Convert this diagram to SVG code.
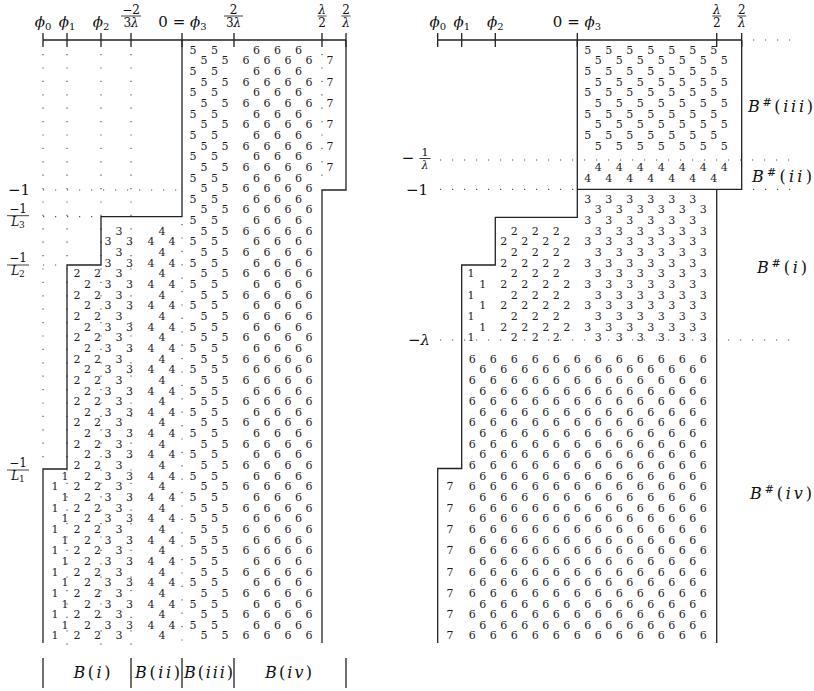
<svg xmlns="http://www.w3.org/2000/svg" width="814" height="691" viewBox="0 0 814 691">
<style>
.d{font-family:"DejaVu Serif",serif;font-size:11px;fill:#1e1e1e;text-anchor:middle}
.t{font-family:"DejaVu Serif",serif;fill:#111}
.f{font-family:"DejaVu Serif",serif;font-size:12px;fill:#111;text-anchor:middle}
.it{font-style:italic}
.ln{stroke:#222;stroke-width:1.3;fill:none}
.bar{stroke:#111;stroke-width:0.8}
.dh{stroke:#555;stroke-width:1.2;stroke-dasharray:1.2 10.8;fill:none}
.dv{stroke:#555;stroke-width:1.2;stroke-dasharray:1.2 12.2;fill:none}
</style>
<rect width="814" height="691" fill="#fff"/>

<!-- LEFT DIAGRAM -->
<g id="left-dotted">
<path class="dv" d="M43 54V469M67 54V645M101 54V645M131 54V645M182 224V645M322 54V187"/>
<path class="dh" d="M43 190H180M43 216.7H99M43 265H66"/>
</g>
<g id="left-axis">
<path class="ln" d="M43 40H346M43 33V47M67 33V47M101 33V47M131 33V47M182 33V47M234 33V47M322 33V47M346 33V47"/>
<text class="t" x="43" y="27" font-size="15" text-anchor="middle"><tspan class="it">ϕ</tspan><tspan font-size="10" dy="3">0</tspan></text>
<text class="t" x="67" y="27" font-size="15" text-anchor="middle"><tspan class="it">ϕ</tspan><tspan font-size="10" dy="3">1</tspan></text>
<text class="t" x="101" y="27" font-size="15" text-anchor="middle"><tspan class="it">ϕ</tspan><tspan font-size="10" dy="3">2</tspan></text>
<text class="f" x="131" y="13.5">−2</text><path class="bar" d="M121 16H141"/><text class="f" x="131" y="26.5">3<tspan class="it">λ</tspan></text>
<text class="t" x="182.5" y="27" font-size="15" text-anchor="middle">0 = <tspan class="it">ϕ</tspan><tspan font-size="10" dy="3">3</tspan></text>
<text class="f" x="233.5" y="13.5">2</text><path class="bar" d="M224 16H243"/><text class="f" x="233.5" y="26.5">3<tspan class="it">λ</tspan></text>
<text class="f" x="322" y="13.5"><tspan class="it">λ</tspan></text><path class="bar" d="M317.5 16H326.5"/><text class="f" x="322" y="26.5">2</text>
<text class="f" x="346" y="13.5">2</text><path class="bar" d="M341.5 16H350.5"/><text class="f" x="346" y="26.5"><tspan class="it">λ</tspan></text>
</g>
<g id="left-outline">
<path class="ln" d="M182 40V216.7H101V265H67V469H43V643"/>
<path class="ln" d="M346 40V190H322V643"/>
</g>
<g id="left-side-labels">
<text class="t" x="30" y="194.5" font-size="15" text-anchor="end">−1</text>
<text class="f" x="18" y="213">−1</text><path class="bar" d="M7 215.7H29"/><text class="f" x="18" y="226"><tspan class="it">L</tspan><tspan font-size="9" dy="2">3</tspan></text>
<text class="f" x="18" y="262.3">−1</text><path class="bar" d="M7 265H29"/><text class="f" x="18" y="275.3"><tspan class="it">L</tspan><tspan font-size="9" dy="2">2</tspan></text>
<text class="f" x="18" y="467.3">−1</text><path class="bar" d="M7 470H29"/><text class="f" x="18" y="480.3"><tspan class="it">L</tspan><tspan font-size="9" dy="2">1</tspan></text>
</g>
<g id="left-digits" class="d">
<g transform="translate(0 53.7)"><text x="193">5</text><text x="214.5">5</text><text x="256.5">6</text><text x="277.5">6</text><text x="298.5">6</text></g>
<g transform="translate(0 64.35)"><text x="204">5</text><text x="225">5</text><text x="246">6</text><text x="267">6</text><text x="288">6</text><text x="309">6</text><text x="330">7</text></g>
<g transform="translate(0 75)"><text x="193">5</text><text x="214.5">5</text><text x="256.5">6</text><text x="277.5">6</text><text x="298.5">6</text></g>
<g transform="translate(0 85.65)"><text x="204">5</text><text x="225">5</text><text x="246">6</text><text x="267">6</text><text x="288">6</text><text x="309">6</text><text x="330">7</text></g>
<g transform="translate(0 96.3)"><text x="193">5</text><text x="214.5">5</text><text x="256.5">6</text><text x="277.5">6</text><text x="298.5">6</text></g>
<g transform="translate(0 106.95)"><text x="204">5</text><text x="225">5</text><text x="246">6</text><text x="267">6</text><text x="288">6</text><text x="309">6</text><text x="330">7</text></g>
<g transform="translate(0 117.6)"><text x="193">5</text><text x="214.5">5</text><text x="256.5">6</text><text x="277.5">6</text><text x="298.5">6</text></g>
<g transform="translate(0 128.25)"><text x="204">5</text><text x="225">5</text><text x="246">6</text><text x="267">6</text><text x="288">6</text><text x="309">6</text><text x="330">7</text></g>
<g transform="translate(0 138.9)"><text x="193">5</text><text x="214.5">5</text><text x="256.5">6</text><text x="277.5">6</text><text x="298.5">6</text></g>
<g transform="translate(0 149.55)"><text x="204">5</text><text x="225">5</text><text x="246">6</text><text x="267">6</text><text x="288">6</text><text x="309">6</text><text x="330">7</text></g>
<g transform="translate(0 160.2)"><text x="193">5</text><text x="214.5">5</text><text x="256.5">6</text><text x="277.5">6</text><text x="298.5">6</text></g>
<g transform="translate(0 170.85)"><text x="204">5</text><text x="225">5</text><text x="246">6</text><text x="267">6</text><text x="288">6</text><text x="309">6</text><text x="330">7</text></g>
<g transform="translate(0 181.5)"><text x="193">5</text><text x="214.5">5</text><text x="256.5">6</text><text x="277.5">6</text><text x="298.5">6</text></g>
<g transform="translate(0 192.15)"><text x="204">5</text><text x="225">5</text><text x="246">6</text><text x="267">6</text><text x="288">6</text><text x="309">6</text></g>
<g transform="translate(0 202.8)"><text x="193">5</text><text x="214.5">5</text><text x="256.5">6</text><text x="277.5">6</text><text x="298.5">6</text></g>
<g transform="translate(0 213.45)"><text x="204">5</text><text x="225">5</text><text x="246">6</text><text x="267">6</text><text x="288">6</text><text x="309">6</text></g>
<g transform="translate(0 224.1)"><text x="193">5</text><text x="214.5">5</text><text x="256.5">6</text><text x="277.5">6</text><text x="298.5">6</text></g>
<g transform="translate(0 234.75)"><text x="119">3</text><text x="162">4</text><text x="204">5</text><text x="225">5</text><text x="246">6</text><text x="267">6</text><text x="288">6</text><text x="309">6</text></g>
<g transform="translate(0 245.4)"><text x="108">3</text><text x="129.5">3</text><text x="151">4</text><text x="172">4</text><text x="193">5</text><text x="214.5">5</text><text x="256.5">6</text><text x="277.5">6</text><text x="298.5">6</text></g>
<g transform="translate(0 256.05)"><text x="119">3</text><text x="162">4</text><text x="204">5</text><text x="225">5</text><text x="246">6</text><text x="267">6</text><text x="288">6</text><text x="309">6</text></g>
<g transform="translate(0 266.7)"><text x="108">3</text><text x="129.5">3</text><text x="151">4</text><text x="172">4</text><text x="193">5</text><text x="214.5">5</text><text x="256.5">6</text><text x="277.5">6</text><text x="298.5">6</text></g>
<g transform="translate(0 277.35)"><text x="77">2</text><text x="97.5">2</text><text x="119">3</text><text x="162">4</text><text x="204">5</text><text x="225">5</text><text x="246">6</text><text x="267">6</text><text x="288">6</text><text x="309">6</text></g>
<g transform="translate(0 288)"><text x="87.5">2</text><text x="108">3</text><text x="129.5">3</text><text x="151">4</text><text x="172">4</text><text x="193">5</text><text x="214.5">5</text><text x="256.5">6</text><text x="277.5">6</text><text x="298.5">6</text></g>
<g transform="translate(0 298.65)"><text x="77">2</text><text x="97.5">2</text><text x="119">3</text><text x="162">4</text><text x="204">5</text><text x="225">5</text><text x="246">6</text><text x="267">6</text><text x="288">6</text><text x="309">6</text></g>
<g transform="translate(0 309.3)"><text x="87.5">2</text><text x="108">3</text><text x="129.5">3</text><text x="151">4</text><text x="172">4</text><text x="193">5</text><text x="214.5">5</text><text x="256.5">6</text><text x="277.5">6</text><text x="298.5">6</text></g>
<g transform="translate(0 319.95)"><text x="77">2</text><text x="97.5">2</text><text x="119">3</text><text x="162">4</text><text x="204">5</text><text x="225">5</text><text x="246">6</text><text x="267">6</text><text x="288">6</text><text x="309">6</text></g>
<g transform="translate(0 330.6)"><text x="87.5">2</text><text x="108">3</text><text x="129.5">3</text><text x="151">4</text><text x="172">4</text><text x="193">5</text><text x="214.5">5</text><text x="256.5">6</text><text x="277.5">6</text><text x="298.5">6</text></g>
<g transform="translate(0 341.25)"><text x="77">2</text><text x="97.5">2</text><text x="119">3</text><text x="162">4</text><text x="204">5</text><text x="225">5</text><text x="246">6</text><text x="267">6</text><text x="288">6</text><text x="309">6</text></g>
<g transform="translate(0 351.9)"><text x="87.5">2</text><text x="108">3</text><text x="129.5">3</text><text x="151">4</text><text x="172">4</text><text x="193">5</text><text x="214.5">5</text><text x="256.5">6</text><text x="277.5">6</text><text x="298.5">6</text></g>
<g transform="translate(0 362.55)"><text x="77">2</text><text x="97.5">2</text><text x="119">3</text><text x="162">4</text><text x="204">5</text><text x="225">5</text><text x="246">6</text><text x="267">6</text><text x="288">6</text><text x="309">6</text></g>
<g transform="translate(0 373.2)"><text x="87.5">2</text><text x="108">3</text><text x="129.5">3</text><text x="151">4</text><text x="172">4</text><text x="193">5</text><text x="214.5">5</text><text x="256.5">6</text><text x="277.5">6</text><text x="298.5">6</text></g>
<g transform="translate(0 383.85)"><text x="77">2</text><text x="97.5">2</text><text x="119">3</text><text x="162">4</text><text x="204">5</text><text x="225">5</text><text x="246">6</text><text x="267">6</text><text x="288">6</text><text x="309">6</text></g>
<g transform="translate(0 394.5)"><text x="87.5">2</text><text x="108">3</text><text x="129.5">3</text><text x="151">4</text><text x="172">4</text><text x="193">5</text><text x="214.5">5</text><text x="256.5">6</text><text x="277.5">6</text><text x="298.5">6</text></g>
<g transform="translate(0 405.15)"><text x="77">2</text><text x="97.5">2</text><text x="119">3</text><text x="162">4</text><text x="204">5</text><text x="225">5</text><text x="246">6</text><text x="267">6</text><text x="288">6</text><text x="309">6</text></g>
<g transform="translate(0 415.8)"><text x="87.5">2</text><text x="108">3</text><text x="129.5">3</text><text x="151">4</text><text x="172">4</text><text x="193">5</text><text x="214.5">5</text><text x="256.5">6</text><text x="277.5">6</text><text x="298.5">6</text></g>
<g transform="translate(0 426.45)"><text x="77">2</text><text x="97.5">2</text><text x="119">3</text><text x="162">4</text><text x="204">5</text><text x="225">5</text><text x="246">6</text><text x="267">6</text><text x="288">6</text><text x="309">6</text></g>
<g transform="translate(0 437.1)"><text x="87.5">2</text><text x="108">3</text><text x="129.5">3</text><text x="151">4</text><text x="172">4</text><text x="193">5</text><text x="214.5">5</text><text x="256.5">6</text><text x="277.5">6</text><text x="298.5">6</text></g>
<g transform="translate(0 447.75)"><text x="77">2</text><text x="97.5">2</text><text x="119">3</text><text x="162">4</text><text x="204">5</text><text x="225">5</text><text x="246">6</text><text x="267">6</text><text x="288">6</text><text x="309">6</text></g>
<g transform="translate(0 458.4)"><text x="87.5">2</text><text x="108">3</text><text x="129.5">3</text><text x="151">4</text><text x="172">4</text><text x="193">5</text><text x="214.5">5</text><text x="256.5">6</text><text x="277.5">6</text><text x="298.5">6</text></g>
<g transform="translate(0 469.05)"><text x="77">2</text><text x="97.5">2</text><text x="119">3</text><text x="162">4</text><text x="204">5</text><text x="225">5</text><text x="246">6</text><text x="267">6</text><text x="288">6</text><text x="309">6</text></g>
<g transform="translate(0 479.7)"><text x="65">1</text><text x="87.5">2</text><text x="108">3</text><text x="129.5">3</text><text x="151">4</text><text x="172">4</text><text x="193">5</text><text x="214.5">5</text><text x="256.5">6</text><text x="277.5">6</text><text x="298.5">6</text></g>
<g transform="translate(0 490.35)"><text x="55">1</text><text x="77">2</text><text x="97.5">2</text><text x="119">3</text><text x="162">4</text><text x="204">5</text><text x="225">5</text><text x="246">6</text><text x="267">6</text><text x="288">6</text><text x="309">6</text></g>
<g transform="translate(0 501)"><text x="65">1</text><text x="87.5">2</text><text x="108">3</text><text x="129.5">3</text><text x="151">4</text><text x="172">4</text><text x="193">5</text><text x="214.5">5</text><text x="256.5">6</text><text x="277.5">6</text><text x="298.5">6</text></g>
<g transform="translate(0 511.65)"><text x="55">1</text><text x="77">2</text><text x="97.5">2</text><text x="119">3</text><text x="162">4</text><text x="204">5</text><text x="225">5</text><text x="246">6</text><text x="267">6</text><text x="288">6</text><text x="309">6</text></g>
<g transform="translate(0 522.3)"><text x="65">1</text><text x="87.5">2</text><text x="108">3</text><text x="129.5">3</text><text x="151">4</text><text x="172">4</text><text x="193">5</text><text x="214.5">5</text><text x="256.5">6</text><text x="277.5">6</text><text x="298.5">6</text></g>
<g transform="translate(0 532.95)"><text x="55">1</text><text x="77">2</text><text x="97.5">2</text><text x="119">3</text><text x="162">4</text><text x="204">5</text><text x="225">5</text><text x="246">6</text><text x="267">6</text><text x="288">6</text><text x="309">6</text></g>
<g transform="translate(0 543.6)"><text x="65">1</text><text x="87.5">2</text><text x="108">3</text><text x="129.5">3</text><text x="151">4</text><text x="172">4</text><text x="193">5</text><text x="214.5">5</text><text x="256.5">6</text><text x="277.5">6</text><text x="298.5">6</text></g>
<g transform="translate(0 554.25)"><text x="55">1</text><text x="77">2</text><text x="97.5">2</text><text x="119">3</text><text x="162">4</text><text x="204">5</text><text x="225">5</text><text x="246">6</text><text x="267">6</text><text x="288">6</text><text x="309">6</text></g>
<g transform="translate(0 564.9)"><text x="65">1</text><text x="87.5">2</text><text x="108">3</text><text x="129.5">3</text><text x="151">4</text><text x="172">4</text><text x="193">5</text><text x="214.5">5</text><text x="256.5">6</text><text x="277.5">6</text><text x="298.5">6</text></g>
<g transform="translate(0 575.55)"><text x="55">1</text><text x="77">2</text><text x="97.5">2</text><text x="119">3</text><text x="162">4</text><text x="204">5</text><text x="225">5</text><text x="246">6</text><text x="267">6</text><text x="288">6</text><text x="309">6</text></g>
<g transform="translate(0 586.2)"><text x="65">1</text><text x="87.5">2</text><text x="108">3</text><text x="129.5">3</text><text x="151">4</text><text x="172">4</text><text x="193">5</text><text x="214.5">5</text><text x="256.5">6</text><text x="277.5">6</text><text x="298.5">6</text></g>
<g transform="translate(0 596.85)"><text x="55">1</text><text x="77">2</text><text x="97.5">2</text><text x="119">3</text><text x="162">4</text><text x="204">5</text><text x="225">5</text><text x="246">6</text><text x="267">6</text><text x="288">6</text><text x="309">6</text></g>
<g transform="translate(0 607.5)"><text x="65">1</text><text x="87.5">2</text><text x="108">3</text><text x="129.5">3</text><text x="151">4</text><text x="172">4</text><text x="193">5</text><text x="214.5">5</text><text x="256.5">6</text><text x="277.5">6</text><text x="298.5">6</text></g>
<g transform="translate(0 618.15)"><text x="55">1</text><text x="77">2</text><text x="97.5">2</text><text x="119">3</text><text x="162">4</text><text x="204">5</text><text x="225">5</text><text x="246">6</text><text x="267">6</text><text x="288">6</text><text x="309">6</text></g>
<g transform="translate(0 628.8)"><text x="65">1</text><text x="87.5">2</text><text x="108">3</text><text x="129.5">3</text><text x="151">4</text><text x="172">4</text><text x="193">5</text><text x="214.5">5</text><text x="256.5">6</text><text x="277.5">6</text><text x="298.5">6</text></g>
<g transform="translate(0 639.45)"><text x="55">1</text><text x="77">2</text><text x="97.5">2</text><text x="119">3</text><text x="162">4</text><text x="204">5</text><text x="225">5</text><text x="246">6</text><text x="267">6</text><text x="288">6</text><text x="309">6</text></g>
</g>
<g id="left-bottom-labels">
<path class="ln" d="M43 658V688M131 658V688M182 658V688M234 658V688M346 658V688"/>
<text class="t" x="92" y="678" font-size="16" text-anchor="middle" textLength="37" lengthAdjust="spacing"><tspan class="it">B</tspan>(<tspan class="it">i</tspan>)</text>
<text class="t" x="157.5" y="678" font-size="16" text-anchor="middle" textLength="45" lengthAdjust="spacing"><tspan class="it">B</tspan>(<tspan class="it">ii</tspan>)</text>
<text class="t" x="208.5" y="678" font-size="16" text-anchor="middle" textLength="49" lengthAdjust="spacing"><tspan class="it">B</tspan>(<tspan class="it">iii</tspan>)</text>
<text class="t" x="288.5" y="678" font-size="16" text-anchor="middle" textLength="47" lengthAdjust="spacing"><tspan class="it">B</tspan>(<tspan class="it">iv</tspan>)</text>
</g>

<!-- RIGHT DIAGRAM -->
<g id="right-dotted">
<path class="dh" d="M753 40H800M440 160H800M440 189.3H574M753 189.3H800M440 340H800"/>
</g>
<g id="right-axis">
<path class="ln" d="M437.7 40H741.7M437.7 33V47M461.7 33V47M495.3 33V47M577.3 33V47M716.7 33V47M741.7 33V47"/>
<text class="t" x="437.7" y="27" font-size="15" text-anchor="middle"><tspan class="it">ϕ</tspan><tspan font-size="10" dy="3">0</tspan></text>
<text class="t" x="461.7" y="27" font-size="15" text-anchor="middle"><tspan class="it">ϕ</tspan><tspan font-size="10" dy="3">1</tspan></text>
<text class="t" x="495.3" y="27" font-size="15" text-anchor="middle"><tspan class="it">ϕ</tspan><tspan font-size="10" dy="3">2</tspan></text>
<text class="t" x="577" y="27" font-size="15" text-anchor="middle">0 = <tspan class="it">ϕ</tspan><tspan font-size="10" dy="3">3</tspan></text>
<text class="f" x="716.7" y="13.5"><tspan class="it">λ</tspan></text><path class="bar" d="M712.2 16H721.2"/><text class="f" x="716.7" y="26.5">2</text>
<text class="f" x="741.7" y="13.5">2</text><path class="bar" d="M737.2 16H746.2"/><text class="f" x="741.7" y="26.5"><tspan class="it">λ</tspan></text>
</g>
<g id="right-outline">
<path class="ln" d="M577.3 40V217.3H495.3V265H461.7V468.5H437.7V643"/>
<path class="ln" d="M577.3 189.3H741.7V40"/>
<path class="ln" d="M716.7 189.3V643"/>
</g>
<g id="right-side-labels">
<text class="t" x="408" y="163" font-size="15" text-anchor="middle">−</text>
<text class="t" x="425" y="156" font-size="11" text-anchor="middle">1</text><path class="bar" d="M419.5 158.5H430.5"/><text class="t" x="425" y="169" font-size="11" text-anchor="middle"><tspan class="it">λ</tspan></text>
<text class="t" x="428" y="194.5" font-size="15" text-anchor="end">−1</text>
<text class="t" x="430" y="345" font-size="15" text-anchor="end">−<tspan class="it">λ</tspan></text>
</g>
<g id="right-digits" class="d">
<g transform="translate(0 53.7)"><text x="587.7">5</text><text x="608.7">5</text><text x="629.7">5</text><text x="650.7">5</text><text x="671.7">5</text><text x="692.7">5</text><text x="713.7">5</text></g>
<g transform="translate(0 64.35)"><text x="598.3">5</text><text x="619.3">5</text><text x="640.3">5</text><text x="661.3">5</text><text x="682.3">5</text><text x="703.3">5</text><text x="724.3">5</text></g>
<g transform="translate(0 75)"><text x="587.7">5</text><text x="608.7">5</text><text x="629.7">5</text><text x="650.7">5</text><text x="671.7">5</text><text x="692.7">5</text><text x="713.7">5</text></g>
<g transform="translate(0 85.65)"><text x="598.3">5</text><text x="619.3">5</text><text x="640.3">5</text><text x="661.3">5</text><text x="682.3">5</text><text x="703.3">5</text><text x="724.3">5</text></g>
<g transform="translate(0 96.3)"><text x="587.7">5</text><text x="608.7">5</text><text x="629.7">5</text><text x="650.7">5</text><text x="671.7">5</text><text x="692.7">5</text><text x="713.7">5</text></g>
<g transform="translate(0 106.95)"><text x="598.3">5</text><text x="619.3">5</text><text x="640.3">5</text><text x="661.3">5</text><text x="682.3">5</text><text x="703.3">5</text><text x="724.3">5</text></g>
<g transform="translate(0 117.6)"><text x="587.7">5</text><text x="608.7">5</text><text x="629.7">5</text><text x="650.7">5</text><text x="671.7">5</text><text x="692.7">5</text><text x="713.7">5</text></g>
<g transform="translate(0 128.25)"><text x="598.3">5</text><text x="619.3">5</text><text x="640.3">5</text><text x="661.3">5</text><text x="682.3">5</text><text x="703.3">5</text><text x="724.3">5</text></g>
<g transform="translate(0 138.9)"><text x="587.7">5</text><text x="608.7">5</text><text x="629.7">5</text><text x="650.7">5</text><text x="671.7">5</text><text x="692.7">5</text><text x="713.7">5</text></g>
<g transform="translate(0 149.55)"><text x="598.3">5</text><text x="619.3">5</text><text x="640.3">5</text><text x="661.3">5</text><text x="682.3">5</text><text x="703.3">5</text><text x="724.3">5</text></g>
<g transform="translate(0 170.85)"><text x="598.3">4</text><text x="619.3">4</text><text x="640.3">4</text><text x="661.3">4</text><text x="682.3">4</text><text x="703.3">4</text><text x="724.3">4</text></g>
<g transform="translate(0 181.5)"><text x="587.7">4</text><text x="608.7">4</text><text x="629.7">4</text><text x="650.7">4</text><text x="671.7">4</text><text x="692.7">4</text><text x="713.7">4</text></g>
<g transform="translate(0 202.8)"><text x="587.7">3</text><text x="608.7">3</text><text x="629.7">3</text><text x="650.7">3</text><text x="671.7">3</text><text x="692.7">3</text></g>
<g transform="translate(0 213.45)"><text x="598.3">3</text><text x="619.3">3</text><text x="640.3">3</text><text x="661.3">3</text><text x="682.3">3</text><text x="703.3">3</text></g>
<g transform="translate(0 224.1)"><text x="587.7">3</text><text x="608.7">3</text><text x="629.7">3</text><text x="650.7">3</text><text x="671.7">3</text><text x="692.7">3</text></g>
<g transform="translate(0 234.75)"><text x="514.3">2</text><text x="535.3">2</text><text x="556.3">2</text><text x="598.3">3</text><text x="619.3">3</text><text x="640.3">3</text><text x="661.3">3</text><text x="682.3">3</text><text x="703.3">3</text></g>
<g transform="translate(0 245.4)"><text x="503.7">2</text><text x="524.7">2</text><text x="545.7">2</text><text x="566.7">2</text><text x="587.7">3</text><text x="608.7">3</text><text x="629.7">3</text><text x="650.7">3</text><text x="671.7">3</text><text x="692.7">3</text></g>
<g transform="translate(0 256.05)"><text x="514.3">2</text><text x="535.3">2</text><text x="556.3">2</text><text x="598.3">3</text><text x="619.3">3</text><text x="640.3">3</text><text x="661.3">3</text><text x="682.3">3</text><text x="703.3">3</text></g>
<g transform="translate(0 266.7)"><text x="503.7">2</text><text x="524.7">2</text><text x="545.7">2</text><text x="566.7">2</text><text x="587.7">3</text><text x="608.7">3</text><text x="629.7">3</text><text x="650.7">3</text><text x="671.7">3</text><text x="692.7">3</text></g>
<g transform="translate(0 277.35)"><text x="471">1</text><text x="514.3">2</text><text x="535.3">2</text><text x="556.3">2</text><text x="598.3">3</text><text x="619.3">3</text><text x="640.3">3</text><text x="661.3">3</text><text x="682.3">3</text><text x="703.3">3</text></g>
<g transform="translate(0 288)"><text x="482.7">1</text><text x="503.7">2</text><text x="524.7">2</text><text x="545.7">2</text><text x="566.7">2</text><text x="587.7">3</text><text x="608.7">3</text><text x="629.7">3</text><text x="650.7">3</text><text x="671.7">3</text><text x="692.7">3</text></g>
<g transform="translate(0 298.65)"><text x="471">1</text><text x="514.3">2</text><text x="535.3">2</text><text x="556.3">2</text><text x="598.3">3</text><text x="619.3">3</text><text x="640.3">3</text><text x="661.3">3</text><text x="682.3">3</text><text x="703.3">3</text></g>
<g transform="translate(0 309.3)"><text x="482.7">1</text><text x="503.7">2</text><text x="524.7">2</text><text x="545.7">2</text><text x="566.7">2</text><text x="587.7">3</text><text x="608.7">3</text><text x="629.7">3</text><text x="650.7">3</text><text x="671.7">3</text><text x="692.7">3</text></g>
<g transform="translate(0 319.95)"><text x="471">1</text><text x="514.3">2</text><text x="535.3">2</text><text x="556.3">2</text><text x="598.3">3</text><text x="619.3">3</text><text x="640.3">3</text><text x="661.3">3</text><text x="682.3">3</text><text x="703.3">3</text></g>
<g transform="translate(0 330.6)"><text x="482.7">1</text><text x="503.7">2</text><text x="524.7">2</text><text x="545.7">2</text><text x="566.7">2</text><text x="587.7">3</text><text x="608.7">3</text><text x="629.7">3</text><text x="650.7">3</text><text x="671.7">3</text><text x="692.7">3</text></g>
<g transform="translate(0 341.25)"><text x="471">1</text><text x="514.3">2</text><text x="535.3">2</text><text x="556.3">2</text><text x="598.3">3</text><text x="619.3">3</text><text x="640.3">3</text><text x="661.3">3</text><text x="682.3">3</text><text x="703.3">3</text></g>
<g transform="translate(0 362.55)"><text x="472.3">6</text><text x="493.3">6</text><text x="514.3">6</text><text x="535.3">6</text><text x="556.3">6</text><text x="577.3">6</text><text x="598.3">6</text><text x="619.3">6</text><text x="640.3">6</text><text x="661.3">6</text><text x="682.3">6</text><text x="703.3">6</text></g>
<g transform="translate(0 373.2)"><text x="482.7">6</text><text x="503.7">6</text><text x="524.7">6</text><text x="545.7">6</text><text x="566.7">6</text><text x="587.7">6</text><text x="608.7">6</text><text x="629.7">6</text><text x="650.7">6</text><text x="671.7">6</text><text x="692.7">6</text></g>
<g transform="translate(0 383.85)"><text x="472.3">6</text><text x="493.3">6</text><text x="514.3">6</text><text x="535.3">6</text><text x="556.3">6</text><text x="577.3">6</text><text x="598.3">6</text><text x="619.3">6</text><text x="640.3">6</text><text x="661.3">6</text><text x="682.3">6</text><text x="703.3">6</text></g>
<g transform="translate(0 394.5)"><text x="482.7">6</text><text x="503.7">6</text><text x="524.7">6</text><text x="545.7">6</text><text x="566.7">6</text><text x="587.7">6</text><text x="608.7">6</text><text x="629.7">6</text><text x="650.7">6</text><text x="671.7">6</text><text x="692.7">6</text></g>
<g transform="translate(0 405.15)"><text x="472.3">6</text><text x="493.3">6</text><text x="514.3">6</text><text x="535.3">6</text><text x="556.3">6</text><text x="577.3">6</text><text x="598.3">6</text><text x="619.3">6</text><text x="640.3">6</text><text x="661.3">6</text><text x="682.3">6</text><text x="703.3">6</text></g>
<g transform="translate(0 415.8)"><text x="482.7">6</text><text x="503.7">6</text><text x="524.7">6</text><text x="545.7">6</text><text x="566.7">6</text><text x="587.7">6</text><text x="608.7">6</text><text x="629.7">6</text><text x="650.7">6</text><text x="671.7">6</text><text x="692.7">6</text></g>
<g transform="translate(0 426.45)"><text x="472.3">6</text><text x="493.3">6</text><text x="514.3">6</text><text x="535.3">6</text><text x="556.3">6</text><text x="577.3">6</text><text x="598.3">6</text><text x="619.3">6</text><text x="640.3">6</text><text x="661.3">6</text><text x="682.3">6</text><text x="703.3">6</text></g>
<g transform="translate(0 437.1)"><text x="482.7">6</text><text x="503.7">6</text><text x="524.7">6</text><text x="545.7">6</text><text x="566.7">6</text><text x="587.7">6</text><text x="608.7">6</text><text x="629.7">6</text><text x="650.7">6</text><text x="671.7">6</text><text x="692.7">6</text></g>
<g transform="translate(0 447.75)"><text x="472.3">6</text><text x="493.3">6</text><text x="514.3">6</text><text x="535.3">6</text><text x="556.3">6</text><text x="577.3">6</text><text x="598.3">6</text><text x="619.3">6</text><text x="640.3">6</text><text x="661.3">6</text><text x="682.3">6</text><text x="703.3">6</text></g>
<g transform="translate(0 458.4)"><text x="482.7">6</text><text x="503.7">6</text><text x="524.7">6</text><text x="545.7">6</text><text x="566.7">6</text><text x="587.7">6</text><text x="608.7">6</text><text x="629.7">6</text><text x="650.7">6</text><text x="671.7">6</text><text x="692.7">6</text></g>
<g transform="translate(0 469.05)"><text x="472.3">6</text><text x="493.3">6</text><text x="514.3">6</text><text x="535.3">6</text><text x="556.3">6</text><text x="577.3">6</text><text x="598.3">6</text><text x="619.3">6</text><text x="640.3">6</text><text x="661.3">6</text><text x="682.3">6</text><text x="703.3">6</text></g>
<g transform="translate(0 479.7)"><text x="482.7">6</text><text x="503.7">6</text><text x="524.7">6</text><text x="545.7">6</text><text x="566.7">6</text><text x="587.7">6</text><text x="608.7">6</text><text x="629.7">6</text><text x="650.7">6</text><text x="671.7">6</text><text x="692.7">6</text></g>
<g transform="translate(0 490.35)"><text x="450">7</text><text x="472.3">6</text><text x="493.3">6</text><text x="514.3">6</text><text x="535.3">6</text><text x="556.3">6</text><text x="577.3">6</text><text x="598.3">6</text><text x="619.3">6</text><text x="640.3">6</text><text x="661.3">6</text><text x="682.3">6</text><text x="703.3">6</text></g>
<g transform="translate(0 501)"><text x="482.7">6</text><text x="503.7">6</text><text x="524.7">6</text><text x="545.7">6</text><text x="566.7">6</text><text x="587.7">6</text><text x="608.7">6</text><text x="629.7">6</text><text x="650.7">6</text><text x="671.7">6</text><text x="692.7">6</text></g>
<g transform="translate(0 511.65)"><text x="450">7</text><text x="472.3">6</text><text x="493.3">6</text><text x="514.3">6</text><text x="535.3">6</text><text x="556.3">6</text><text x="577.3">6</text><text x="598.3">6</text><text x="619.3">6</text><text x="640.3">6</text><text x="661.3">6</text><text x="682.3">6</text><text x="703.3">6</text></g>
<g transform="translate(0 522.3)"><text x="482.7">6</text><text x="503.7">6</text><text x="524.7">6</text><text x="545.7">6</text><text x="566.7">6</text><text x="587.7">6</text><text x="608.7">6</text><text x="629.7">6</text><text x="650.7">6</text><text x="671.7">6</text><text x="692.7">6</text></g>
<g transform="translate(0 532.95)"><text x="450">7</text><text x="472.3">6</text><text x="493.3">6</text><text x="514.3">6</text><text x="535.3">6</text><text x="556.3">6</text><text x="577.3">6</text><text x="598.3">6</text><text x="619.3">6</text><text x="640.3">6</text><text x="661.3">6</text><text x="682.3">6</text><text x="703.3">6</text></g>
<g transform="translate(0 543.6)"><text x="482.7">6</text><text x="503.7">6</text><text x="524.7">6</text><text x="545.7">6</text><text x="566.7">6</text><text x="587.7">6</text><text x="608.7">6</text><text x="629.7">6</text><text x="650.7">6</text><text x="671.7">6</text><text x="692.7">6</text></g>
<g transform="translate(0 554.25)"><text x="450">7</text><text x="472.3">6</text><text x="493.3">6</text><text x="514.3">6</text><text x="535.3">6</text><text x="556.3">6</text><text x="577.3">6</text><text x="598.3">6</text><text x="619.3">6</text><text x="640.3">6</text><text x="661.3">6</text><text x="682.3">6</text><text x="703.3">6</text></g>
<g transform="translate(0 564.9)"><text x="482.7">6</text><text x="503.7">6</text><text x="524.7">6</text><text x="545.7">6</text><text x="566.7">6</text><text x="587.7">6</text><text x="608.7">6</text><text x="629.7">6</text><text x="650.7">6</text><text x="671.7">6</text><text x="692.7">6</text></g>
<g transform="translate(0 575.55)"><text x="450">7</text><text x="472.3">6</text><text x="493.3">6</text><text x="514.3">6</text><text x="535.3">6</text><text x="556.3">6</text><text x="577.3">6</text><text x="598.3">6</text><text x="619.3">6</text><text x="640.3">6</text><text x="661.3">6</text><text x="682.3">6</text><text x="703.3">6</text></g>
<g transform="translate(0 586.2)"><text x="482.7">6</text><text x="503.7">6</text><text x="524.7">6</text><text x="545.7">6</text><text x="566.7">6</text><text x="587.7">6</text><text x="608.7">6</text><text x="629.7">6</text><text x="650.7">6</text><text x="671.7">6</text><text x="692.7">6</text></g>
<g transform="translate(0 596.85)"><text x="450">7</text><text x="472.3">6</text><text x="493.3">6</text><text x="514.3">6</text><text x="535.3">6</text><text x="556.3">6</text><text x="577.3">6</text><text x="598.3">6</text><text x="619.3">6</text><text x="640.3">6</text><text x="661.3">6</text><text x="682.3">6</text><text x="703.3">6</text></g>
<g transform="translate(0 607.5)"><text x="482.7">6</text><text x="503.7">6</text><text x="524.7">6</text><text x="545.7">6</text><text x="566.7">6</text><text x="587.7">6</text><text x="608.7">6</text><text x="629.7">6</text><text x="650.7">6</text><text x="671.7">6</text><text x="692.7">6</text></g>
<g transform="translate(0 618.15)"><text x="450">7</text><text x="472.3">6</text><text x="493.3">6</text><text x="514.3">6</text><text x="535.3">6</text><text x="556.3">6</text><text x="577.3">6</text><text x="598.3">6</text><text x="619.3">6</text><text x="640.3">6</text><text x="661.3">6</text><text x="682.3">6</text><text x="703.3">6</text></g>
<g transform="translate(0 628.8)"><text x="482.7">6</text><text x="503.7">6</text><text x="524.7">6</text><text x="545.7">6</text><text x="566.7">6</text><text x="587.7">6</text><text x="608.7">6</text><text x="629.7">6</text><text x="650.7">6</text><text x="671.7">6</text><text x="692.7">6</text></g>
<g transform="translate(0 639.45)"><text x="450">7</text><text x="472.3">6</text><text x="493.3">6</text><text x="514.3">6</text><text x="535.3">6</text><text x="556.3">6</text><text x="577.3">6</text><text x="598.3">6</text><text x="619.3">6</text><text x="640.3">6</text><text x="661.3">6</text><text x="682.3">6</text><text x="703.3">6</text></g>
</g>
<g id="right-region-labels">
<text class="t" x="748" y="111.5" font-size="16" textLength="65" lengthAdjust="spacing"><tspan class="it">B</tspan><tspan font-size="11" dy="-6">#</tspan><tspan dy="6">(</tspan><tspan class="it">iii</tspan>)</text>
<text class="t" x="752" y="181.5" font-size="16" textLength="60" lengthAdjust="spacing"><tspan class="it">B</tspan><tspan font-size="11" dy="-6">#</tspan><tspan dy="6">(</tspan><tspan class="it">ii</tspan>)</text>
<text class="t" x="757" y="273" font-size="16" textLength="50" lengthAdjust="spacing"><tspan class="it">B</tspan><tspan font-size="11" dy="-6">#</tspan><tspan dy="6">(</tspan><tspan class="it">i</tspan>)</text>
<text class="t" x="750" y="499" font-size="16" textLength="62" lengthAdjust="spacing"><tspan class="it">B</tspan><tspan font-size="11" dy="-6">#</tspan><tspan dy="6">(</tspan><tspan class="it">iv</tspan>)</text>
</g>
</svg>
